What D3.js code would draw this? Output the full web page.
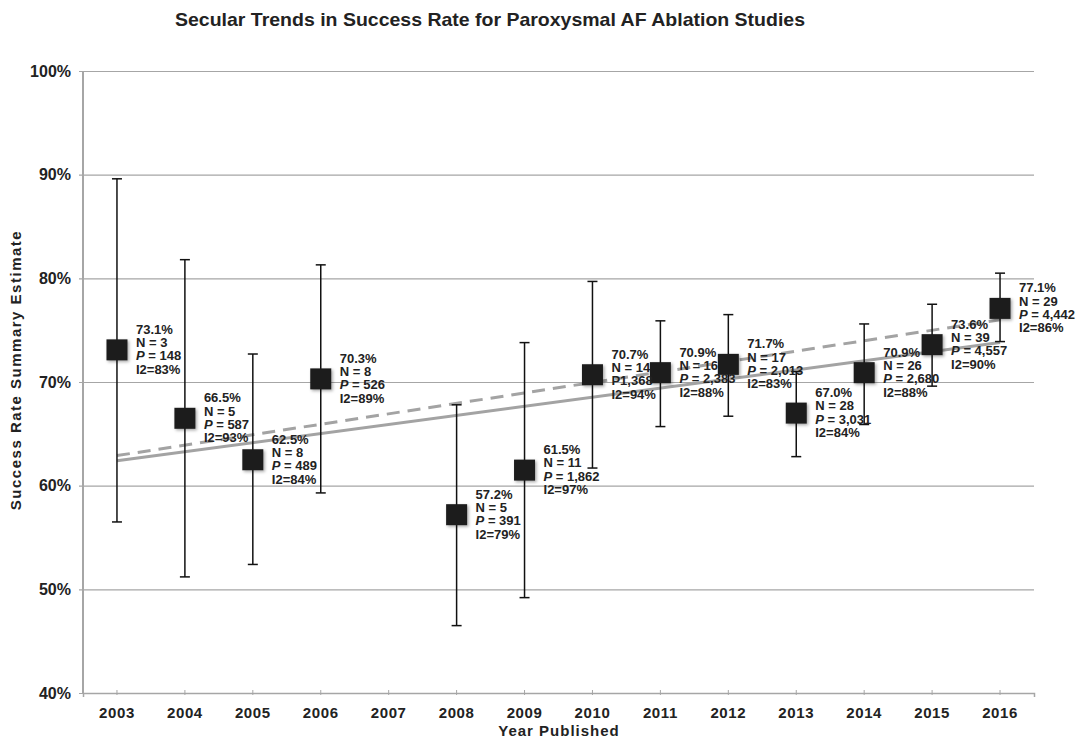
<!DOCTYPE html>
<html>
<head>
<meta charset="utf-8">
<script src="https://cdn.jsdelivr.net/npm/d3@7"></script>
<style>
  body { margin: 0; background: #fff; }
  svg { display: block; font-family: "Liberation Sans", Arial, sans-serif; }
</style>
</head>
<body>
<svg id="chart" width="1077" height="739"></svg>
<script>
// Pooled success rate per publication year (%), with 95% CI bounds
const years = ["2003","2004","2005","2006","2007","2008","2009","2010","2011","2012","2013","2014","2015","2016"];
const rateYears = ["2003","2004","2005","2006","2008","2009","2010","2011","2012","2013","2014","2015","2016"];
const rates = [73.1, 66.5, 62.5, 70.3, 57.2, 61.5, 70.7, 70.9, 71.7, 67.0, 70.9, 73.6, 77.1];
const ciLow  = [56.5, 51.2, 52.4, 59.3, 46.5, 49.2, 61.7, 65.7, 66.7, 62.8, 65.9, 69.6, 73.9];
const ciHigh = [89.6, 81.8, 72.7, 81.3, 67.8, 73.8, 79.7, 75.9, 76.5, 71.0, 75.6, 77.5, 80.5];
const studyCounts = [3, 5, 8, 8, 5, 11, 14, 16, 17, 28, 26, 39, 29];
const patientLabels = ["P = 148","P = 587","P = 489","P = 526","P = 391","P = 1,862","P1,368","P = 2,383","P = 2,013","P = 3,031","P = 2,680","P = 4,557","P = 4,442"];
const heterogeneity = [83, 93, 84, 89, 79, 97, 94, 88, 83, 84, 88, 90, 86];
const yTicks = [40, 50, 60, 70, 80, 90, 100];
// Linear trend endpoints (2003 -> 2016)
const trendSolid = [62.4, 73.8];
const trendDashed = [62.9, 76.0];

const svg = d3.select("#chart");
const plotLeft = 83, plotRight = 1034, plotTop = 71, plotBottom = 693;

const x = d3.scaleBand().domain(years).range([plotLeft, plotRight]);
const y = d3.scaleLinear().domain([40, 100]).range([plotBottom, plotTop]);
const cx = yr => x(yr) + x.bandwidth() / 2;

const defs = svg.append("defs");
const f = defs.append("filter").attr("id", "shadow").attr("x", "-50%").attr("y", "-50%").attr("width", "200%").attr("height", "200%");
f.append("feDropShadow").attr("dx", 1.5).attr("dy", 1.5).attr("stdDeviation", 1.5).attr("flood-color", "#000").attr("flood-opacity", 0.35);

// Title
svg.append("text").attr("x", 490).attr("y", 26).attr("text-anchor", "middle")
  .attr("font-size", 19).attr("font-weight", "bold").attr("fill", "#222")
  .attr("textLength", 630).attr("lengthAdjust", "spacingAndGlyphs")
  .text("Secular Trends in Success Rate for Paroxysmal AF Ablation Studies");

// Horizontal gridlines and y labels
const yAxis = d3.axisLeft(y).tickValues(yTicks).tickSize(-(plotRight - plotLeft)).tickSizeOuter(0).tickFormat(d => d + "%").tickPadding(12);
const gy = svg.append("g").attr("transform", `translate(${plotLeft},0)`).call(yAxis);
gy.select(".domain").remove();
gy.selectAll(".tick line").attr("stroke", "#a6a6a6").attr("stroke-width", 1.2).attr("x1", -4);
gy.selectAll(".tick text").attr("font-size", 16).attr("font-weight", "bold").attr("fill", "#222")
  .attr("font-family", "Liberation Sans, Arial, sans-serif");
svg.append("line").attr("x1", plotLeft).attr("x2", plotLeft).attr("y1", plotTop).attr("y2", plotBottom)
  .attr("stroke", "#a6a6a6").attr("stroke-width", 2);

// X axis
const xAxis = d3.axisBottom(x).tickSize(4).tickSizeOuter(4).tickPadding(10);
const gx = svg.append("g").attr("transform", `translate(0,${plotBottom})`).call(xAxis);
gx.select(".domain").attr("stroke", "#a6a6a6").attr("stroke-width", 1.5);
gx.selectAll(".tick line").attr("stroke", "#a6a6a6").attr("y1", -3).attr("y2", 2);
gx.selectAll(".tick text").attr("font-size", 15).attr("font-weight", "bold").attr("fill", "#222")
  .attr("font-family", "Liberation Sans, Arial, sans-serif").attr("letter-spacing", 0.6);

// Axis titles
svg.append("text").attr("x", 559).attr("y", 736).attr("text-anchor", "middle")
  .attr("font-size", 15).attr("font-weight", "bold").attr("fill", "#222").attr("letter-spacing", 1)
  .text("Year Published");
svg.append("text").attr("transform", "translate(21,370) rotate(-90)").attr("text-anchor", "middle")
  .attr("font-size", 15).attr("font-weight", "bold").attr("fill", "#222").attr("letter-spacing", 1.5)
  .text("Success Rate Summary Estimate");

// Trend lines
const x0 = cx(years[0]), x1 = cx(years[years.length - 1]);
svg.append("line").attr("x1", x0).attr("x2", x1).attr("y1", y(trendSolid[0])).attr("y2", y(trendSolid[1]))
  .attr("stroke", "#a3a3a3").attr("stroke-width", 3);
svg.append("line").attr("x1", x0).attr("x2", x1).attr("y1", y(trendDashed[0])).attr("y2", y(trendDashed[1]))
  .attr("stroke", "#a3a3a3").attr("stroke-width", 3).attr("stroke-dasharray", "13,8");

const data = rateYears.map((yr, i) => ({
  yr, rate: rates[i], lo: ciLow[i], hi: ciHigh[i], n: studyCounts[i], p: patientLabels[i], i2: heterogeneity[i]
}));

// Error bars
const eb = svg.append("g").attr("stroke", "#111").attr("stroke-width", 1.5);
data.forEach(d => {
  const c = cx(d.yr);
  eb.append("line").attr("x1", c).attr("x2", c).attr("y1", y(d.hi)).attr("y2", y(d.lo));
  eb.append("line").attr("x1", c - 5).attr("x2", c + 5).attr("y1", y(d.hi)).attr("y2", y(d.hi));
  eb.append("line").attr("x1", c - 5).attr("x2", c + 5).attr("y1", y(d.lo)).attr("y2", y(d.lo));
});

// Point estimates
const sq = 21;
svg.append("g").selectAll("rect").data(data).join("rect")
  .attr("x", d => cx(d.yr) - sq / 2).attr("y", d => y(d.rate) - sq / 2)
  .attr("width", sq).attr("height", sq).attr("fill", "#1c1c1c").attr("filter", "url(#shadow)");

// Annotations
const lab = svg.append("g").attr("font-size", 13).attr("font-weight", "bold").attr("fill", "#222");
data.forEach(d => {
  const tx = cx(d.yr) + 19, ty = y(d.rate) - 16;
  const t = lab.append("text").attr("x", tx).attr("y", ty);
  t.append("tspan").attr("x", tx).attr("dy", 0).text(d.rate.toFixed(1) + "%");
  t.append("tspan").attr("x", tx).attr("dy", 13.3).text("N = " + d.n);
  const pl = t.append("tspan").attr("x", tx).attr("dy", 13.3);
  if (d.p.startsWith("P = ")) {
    pl.append("tspan").attr("font-style", "italic").text("P");
    pl.append("tspan").text(" = " + d.p.slice(4));
  } else {
    pl.text(d.p);
  }
  t.append("tspan").attr("x", tx).attr("dy", 13.3).text("I2=" + d.i2 + "%");
});
</script>
</body>
</html>
